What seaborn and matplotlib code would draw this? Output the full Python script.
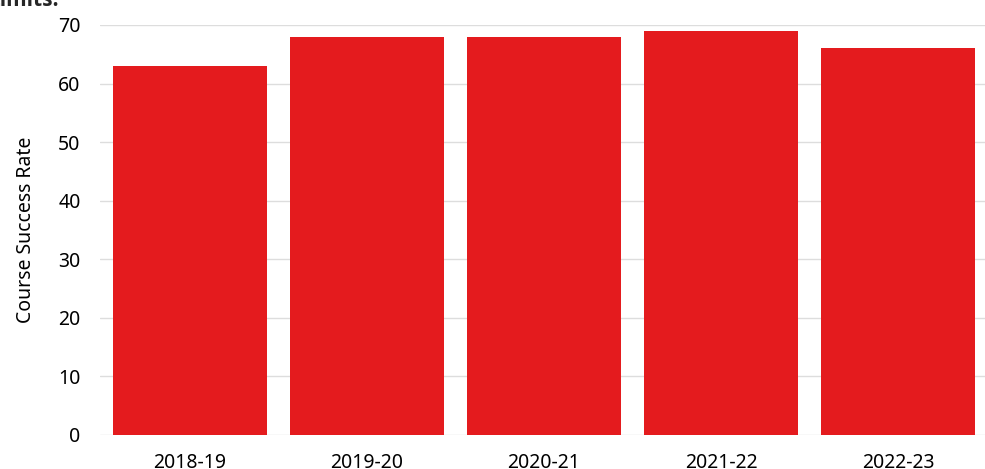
import matplotlib
matplotlib.use("Agg")
import matplotlib.pyplot as plt
import seaborn as sns
import pandas as pd

years = ["2018-19", "2019-20", "2020-21", "2021-22", "2022-23"]
success_rate = [63, 68, 68, 69, 66]
y_ticks = [0, 10, 20, 30, 40, 50, 60, 70]

sns.set_theme(style="white")
plt.rcParams['font.family'] = ['Noto Sans', 'DejaVu Sans']

df = pd.DataFrame({"Year": years, "Rate": success_rate})

fig = plt.figure(figsize=(9.85, 4.69), dpi=100)
ax = fig.add_axes([100/985, 1 - 435/469, 885/985, 410/469])

sns.barplot(data=df, x="Year", y="Rate", color="#E41B1E", saturation=1,
            width=0.87, ax=ax, zorder=3, linewidth=0, edgecolor="none")

ax.set_ylim(0, 70)
ax.set_xlim(-0.507, 4.49)
ax.set_yticks(y_ticks)
ax.grid(axis="y", color="#dddddd", linewidth=1, zorder=0)
ax.grid(axis="x", visible=False)
for s in ax.spines.values():
    s.set_visible(False)
ax.tick_params(axis="both", length=0, labelsize=14, colors="black")
ax.tick_params(axis="y", pad=14)
ax.tick_params(axis="x", pad=13)
ax.set_xlabel("")
ax.set_ylabel("Course Success Rate", fontsize=14, labelpad=16, color="black")

fig.text(-0.012, 1.022, "Limits:", fontsize=15, fontweight="bold",
         family=["Open Sans", "DejaVu Sans"], ha="left", va="top")

fig.savefig("out.png", dpi=100)
